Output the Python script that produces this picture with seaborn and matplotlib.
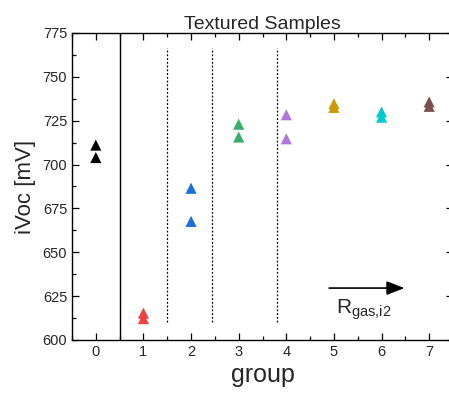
import matplotlib
matplotlib.use("Agg")
import matplotlib.pyplot as plt
from matplotlib.ticker import MultipleLocator
import seaborn as sns
import pandas as pd

groups = [0, 0, 1, 1, 2, 2, 3, 3, 4, 4, 5, 5, 6, 6, 7, 7]
ivoc = [711.1, 704.0, 615.3, 612.2, 686.5, 667.6, 723.0, 715.7,
        728.4, 714.7, 734.7, 732.6, 730.0, 727.0, 735.7, 733.2]
colors = ['#000000', '#F14040', '#1A6FDF', '#37AD6B',
          '#B177DE', '#CC9900', '#00CBCC', '#7D4E4E']
x_ticks = [0, 1, 2, 3, 4, 5, 6, 7]
y_ticks = [600, 625, 650, 675, 700, 725, 750, 775]
dotted_x = [1.5, 2.45, 3.8]
solid_x = 0.5

df = pd.DataFrame({"group": groups, "iVoc": ivoc})

sns.set_theme(style="ticks")
plt.rcParams['font.family'] = ['Liberation Sans', 'DejaVu Sans']
plt.rcParams['mathtext.fontset'] = 'custom'
plt.rcParams['mathtext.rm'] = 'Liberation Sans'

fig = plt.figure(figsize=(4.49, 3.96), dpi=100)
ax = fig.add_axes([72/449, 56/396, (453-72)/449, (340-33)/396])

sns.scatterplot(data=df, x="group", y="iVoc", hue="group", palette=colors,
                marker="^", s=64, edgecolor="none", legend=False, ax=ax, zorder=3)

ax.axvline(solid_x, color="black", lw=1.0)
for xv in dotted_x:
    ax.plot([xv, xv], [610.2, 766.4], color="black", lw=0.9, ls=(0, (1.5, 1.5)))

ax.annotate("", xy=(6.48, 629.6), xytext=(4.9, 629.6),
            arrowprops=dict(arrowstyle="-|>,head_length=0.9,head_width=0.35",
                            color="black", lw=1.2, shrinkA=0, shrinkB=0))
ax.text(5.05, 615.4, r"R$_{\mathregular{gas{,}i2}}$", fontsize=15, ha="left", va="baseline")

ax.set_xlim(-0.5, 7.5)
ax.set_ylim(600, 775)
ax.set_xticks(x_ticks)
ax.set_yticks(y_ticks)
ax.xaxis.set_minor_locator(MultipleLocator(0.5))
ax.yaxis.set_minor_locator(MultipleLocator(12.5))
ax.tick_params(which="both", direction="in", top=True, right=True, labelsize=10.5, color="black")
ax.tick_params(which="major", length=5, width=0.9)
ax.tick_params(which="minor", length=3, width=0.9)
for sp in ax.spines.values():
    sp.set_linewidth(1.0)
    sp.set_color("black")

ax.set_xlabel("group", fontsize=18, labelpad=3)
ax.set_ylabel("iVoc [mV]", fontsize=16, labelpad=5)
ax.set_title("Textured Samples", fontsize=14, pad=3)

fig.savefig("out.png", dpi=100)
